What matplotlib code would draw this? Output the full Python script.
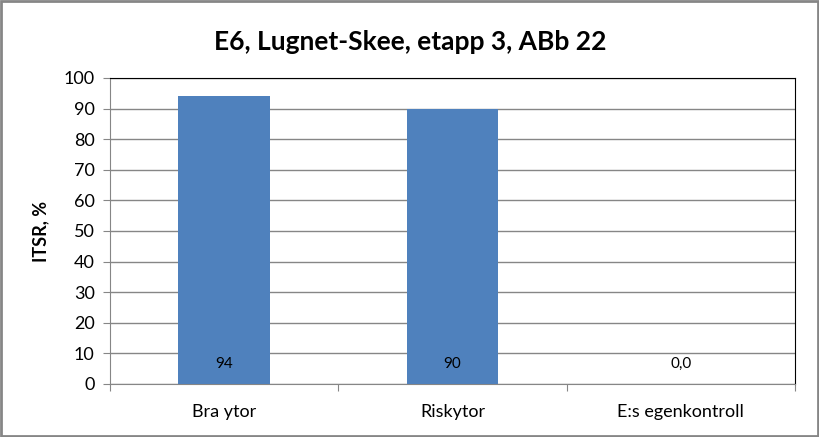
import matplotlib.pyplot as plt
from matplotlib.patches import Rectangle

categories = ['Bra ytor', 'Riskytor', 'E:s egenkontroll']
values = [94, 90, 0]
value_labels = ['94', '90', '0,0']
yticks = list(range(0, 101, 10))

plt.rcParams['font.family'] = ['Lato', 'DejaVu Sans']

fig = plt.figure(figsize=(8.2, 4.37), dpi=100)
ax = fig.add_axes([110 / 820, 1 - 384 / 437, 685 / 820, 306 / 437])

x = range(len(categories))
bars = ax.bar(x, values, width=0.4, color='#4F81BD', zorder=3)
for i, lab in enumerate(value_labels):
    ax.text(i, 6.5, lab, ha='center', va='center', fontsize=11, zorder=4)

ax.set_xlim(-0.5, 2.5)
ax.set_ylim(0, 100)
ax.set_yticks(yticks)
ax.set_xticks([0.5, 1.5], minor=False)
ax.set_xticks([], minor=True)
ax.set_xticks([-0.5, 0.5, 1.5, 2.5])
ax.set_xticklabels([])
for i, c in enumerate(categories):
    ax.text(i, -6.5, c, ha='center', va='top', fontsize=13, transform=ax.transData)
ax.tick_params(axis='x', length=5, color='#868686', direction='out')
ax.tick_params(axis='y', length=5, color='#868686', labelsize=13, pad=6)
ax.grid(axis='y', color='#868686', linewidth=1, zorder=0)
ax.spines['left'].set_color('#868686')
ax.spines['bottom'].set_color('#868686')
ax.spines['top'].set_color('black')
ax.spines['right'].set_color('black')
ax.set_ylabel('ITSR, %', fontsize=13, fontweight='bold', labelpad=10)

fig.text(410 / 820, 1 - 42 / 437, 'E6, Lugnet-Skee, etapp 3, ABb 22',
         ha='center', va='center', fontsize=19, fontweight='bold')

fig.patches.append(Rectangle((0.001, 0.002), 0.997, 0.996, transform=fig.transFigure,
                             fill=False, edgecolor='#868686', linewidth=2))

fig.savefig('out.png', dpi=100)
